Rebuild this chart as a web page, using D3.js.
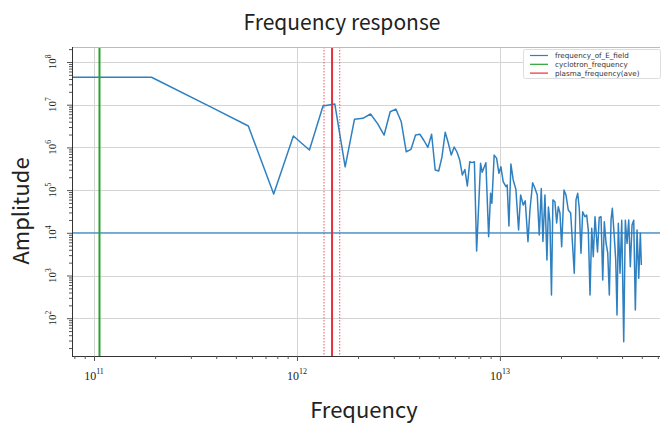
<!DOCTYPE html>
<html><head><meta charset="utf-8">
<script src="https://cdn.jsdelivr.net/npm/d3@7"></script>
<style>body{margin:0;background:#fff}svg{display:block}</style>
</head><body>
<svg id="c" width="663" height="424"></svg>
<script>
// ---- data ----
const freq = [1e10,1.92e11,3.84e11,5.76e11,7.68e11,9.6e11,1.152e12,1.344e12,1.536e12,1.728e12,1.92e12,2.112e12,2.304e12,2.496e12,2.688e12,2.88e12,3.072e12,3.264e12,3.456e12,3.648e12,3.84e12,4.032e12,4.224e12,4.416e12,4.608e12,4.8e12,4.992e12,5.184e12,5.376e12,5.568e12,5.76e12,5.952e12,6.144e12,6.336e12,6.528e12,6.72e12,6.912e12,7.104e12,7.296e12,7.488e12,7.68e12,
8.03e12,8.18e12,8.53e12,8.80e12,9.00e12,9.13e12,9.37e12,9.63e12,9.89e12,1.011e13,1.038e13,1.071e13,1.086e13,1.108e13,1.133e13,1.163e13,1.199e13,1.236e13,1.265e13,1.303e13,1.333e13,1.375e13,1.406e13,1.450e13,1.488e13,1.528e13,1.563e13,1.599e13,1.629e13,1.667e13,1.705e13,1.734e13,1.764e13,1.795e13,1.825e13,1.867e13,1.904e13,1.939e13,1.977e13,2.015e13,2.069e13,2.116e13,2.172e13,2.232e13,2.273e13,2.325e13,2.371e13,2.417e13,2.461e13,2.509e13,2.558e13,2.626e13,2.677e13,2.726e13,2.780e13,2.834e13,2.885e13,2.942e13,3.027e13,3.086e13,3.150e13,3.211e13,3.270e13,3.334e13,3.399e13,3.461e13,3.529e13,3.581e13,3.651e13,3.722e13,3.777e13,3.833e13,3.908e13,3.984e13,4.075e13,4.150e13,4.231e13,4.313e13,4.392e13,4.478e13,4.565e13,4.649e13,4.740e13,4.832e13,4.920e13,4.977e13];
const amp = [4.4e7,4.4e7,8.4e6,3.17e6,8.1e4,1.85e6,8.7e5,9.3e6,1.04e7,3.5e5,4.55e6,4.8e6,6.05e6,3.6e6,1.95e6,6.85e6,7.9e6,4.0e6,7.9e5,9.0e5,1.95e6,2.03e6,1.45e6,1.0e6,2.03e6,2.96e5,2.8e5,6.0e5,2.26e6,1.27e6,6.6e5,1.02e6,7.8e5,5.07e5,2.26e5,3.03e5,1.25e5,4.6e5,4.4e5,4.6e5,3.75e3,
4.25e5,2.61e5,4.38e5,8.1e3,8.4e4,4.9e4,6.6e5,5.6e5,2.47e5,3.53e5,1.57e5,1.2e5,1.32e5,1.44e4,4.08e5,1.73e5,1.04e5,1.16e4,7.7e4,4.48e4,5.6e4,6.2e3,3.42e4,1.49e5,1.10e5,7.7e4,8.9e3,1.09e5,6.25e3,7.7e4,2.3e3,4.0e4,1.79e4,349,5.9e4,5.35e4,1.70e4,4.08e4,2.91e4,4.72e3,1.0e5,7.7e4,3.42e4,2.91e4,6.8e3,1.13e3,5.9e4,8.4e4,3.75e4,3.31e3,3.12e4,2.38e4,2.61e4,1.16e4,349,1.27e4,2.75e3,2.38e4,3.55e3,2.28e4,2.38e4,785,1.82e4,5.77e3,3.37e3,349,2.0e4,3.75e4,9.9e3,2.3e3,119,1.67e4,1.13e3,1.96e4,28.2,1.96e4,5.67e3,2.0e4,1.61e3,1.52e4,1.96e4,156,1.16e4,859,9.7e3,1.76e3];
const cyclotronFreq = 1.064e11;
const plasmaFreq = 1.489e12;
const plasmaBand = [1.359e12, 1.625e12];
const refAmplitude = 1e4;
const xTicks = [1e11, 1e12, 1e13];
const xTickExp = ["11", "12", "13"];
const yTicks = [1e2, 1e3, 1e4, 1e5, 1e6, 1e7, 1e8];
const yTickExp = ["2", "3", "4", "5", "6", "7", "8"];
const legendLabels = ["frequency_of_E_field", "cyclotron_frequency", "plasma_frequency(ave)"];
const title = "Frequency response";
const xLabel = "Frequency";
const yLabel = "Amplitude";

// ---- layout ----
const L = 72, R = 660, T = 47, B = 356;
const svg = d3.select("#c");
const x = d3.scaleLog().domain([7.79e10, 6.15e13]).range([L, R]);
const y = d3.scaleLog().domain([13.03, 2.244e8]).range([B, T]);
const blue = "#2f80c0", green = "#2ca02c", red = "#e8303a", grid = "#d4d4d4";

svg.append("defs").append("clipPath").attr("id", "clip")
  .append("rect").attr("x", L).attr("y", T).attr("width", R - L).attr("height", B - T);

// gridlines
svg.append("g").selectAll("line").data(xTicks).join("line")
  .attr("x1", d => Math.round(x(d)) + 0.5).attr("x2", d => Math.round(x(d)) + 0.5)
  .attr("y1", T).attr("y2", B).attr("stroke", grid).attr("stroke-width", 1);
svg.append("g").selectAll("line").data(yTicks).join("line")
  .attr("y1", d => Math.round(y(d)) + 0.5).attr("y2", d => Math.round(y(d)) + 0.5)
  .attr("x1", L).attr("x2", R).attr("stroke", grid).attr("stroke-width", 1);

const plot = svg.append("g").attr("clip-path", "url(#clip)");
const pts = freq.map((f, i) => [f, amp[i]]);
plot.append("path").datum(pts)
  .attr("d", d3.line().x(d => x(d[0])).y(d => y(d[1])))
  .attr("fill", "none").attr("stroke", blue).attr("stroke-width", 1.5).attr("stroke-linejoin", "round");
plot.append("line").attr("x1", L).attr("x2", R)
  .attr("y1", y(refAmplitude)).attr("y2", y(refAmplitude))
  .attr("stroke", blue).attr("stroke-width", 1.2).attr("opacity", 0.9);
plot.append("line").attr("x1", x(cyclotronFreq)).attr("x2", x(cyclotronFreq))
  .attr("y1", T).attr("y2", B).attr("stroke", green).attr("stroke-width", 2);
plot.selectAll(".band").data(plasmaBand).join("line")
  .attr("x1", d => x(d)).attr("x2", d => x(d)).attr("y1", T).attr("y2", B)
  .attr("stroke", red).attr("stroke-width", 1).attr("stroke-dasharray", "1.5,1.5").attr("opacity", 0.8);
plot.append("line").attr("x1", x(plasmaFreq)).attr("x2", x(plasmaFreq))
  .attr("y1", T).attr("y2", B).attr("stroke", red).attr("stroke-width", 2);

// spines
svg.append("line").attr("x1", L).attr("x2", R).attr("y1", T + 0.5).attr("y2", T + 0.5).attr("stroke", "#bbb");
svg.append("line").attr("x1", L + 0.5).attr("x2", L + 0.5).attr("y1", T).attr("y2", B).attr("stroke", "#333");
svg.append("line").attr("x1", L).attr("x2", R).attr("y1", B + 0.5).attr("y2", B + 0.5).attr("stroke", "#333");

// axes ticks
const xMinor = [], yMinor = [];
for (let e = 10; e <= 13; e++) for (let m = 2; m <= 9; m++) { const v = m * Math.pow(10, e); if (v > 7.79e10 && v < 6.15e13) xMinor.push(v); }
for (let e = 1; e <= 8; e++) for (let m = 2; m <= 9; m++) { const v = m * Math.pow(10, e); if (v > 13.03 && v < 2.244e8) yMinor.push(v); }
const xAxis = svg.append("g").attr("transform", `translate(0,${B})`)
  .call(d3.axisBottom(x).tickValues(xTicks).tickSize(5).tickFormat(""));
const xAxisMinor = svg.append("g").attr("transform", `translate(0,${B})`)
  .call(d3.axisBottom(x).tickValues(xMinor).tickSize(3).tickFormat(""));
const yAxis = svg.append("g").attr("transform", `translate(${L},0)`)
  .call(d3.axisLeft(y).tickValues(yTicks).tickSize(5).tickFormat(""));
const yAxisMinor = svg.append("g").attr("transform", `translate(${L},0)`)
  .call(d3.axisLeft(y).tickValues(yMinor).tickSize(3).tickFormat(""));
[xAxis, xAxisMinor, yAxis, yAxisMinor].forEach(g => {
  g.select(".domain").remove();
  g.selectAll(".tick line").attr("stroke", "#555");
});

// tick labels
const xl = svg.append("g").attr("font-family", "'Liberation Serif', serif").attr("fill", "#222");
xTicks.forEach((t, i) => {
  const tx = xl.append("text").attr("x", x(t)).attr("y", B + 24).attr("text-anchor", "middle").attr("font-size", 12);
  tx.append("tspan").text("10");
  tx.append("tspan").attr("dy", -6).attr("font-size", 8).text(xTickExp[i]);
});
yTicks.forEach((t, i) => {
  const tx = xl.append("text").attr("transform", `translate(56,${y(t)}) rotate(-90)`)
    .attr("text-anchor", "middle").attr("font-size", 11);
  tx.append("tspan").text("10");
  tx.append("tspan").attr("dy", -5).attr("font-size", 7.5).text(yTickExp[i]);
});

// titles
const sans = "'Noto Sans CJK JP', 'Noto Sans', sans-serif";
svg.append("text").attr("x", 342).attr("y", 30).attr("text-anchor", "middle")
  .attr("font-family", sans).attr("font-size", 21).attr("fill", "#222").text(title);
svg.append("text").attr("x", 364).attr("y", 418).attr("text-anchor", "middle")
  .attr("font-family", sans).attr("font-size", 22).attr("fill", "#222").text(xLabel);
svg.append("text").attr("transform", "translate(29,211) rotate(-90)").attr("text-anchor", "middle")
  .attr("font-family", sans).attr("font-size", 22).attr("fill", "#222").text(yLabel);

// legend
const lg = svg.append("g");
lg.append("rect").attr("x", 523.5).attr("y", 49.5).attr("width", 137).attr("height", 29)
  .attr("fill", "#fff").attr("stroke", "#ddd").attr("rx", 2);
const lcol = [blue, green, red];
legendLabels.forEach((s, i) => {
  const yy = 55.5 + i * 8.8;
  lg.append("line").attr("x1", 530).attr("x2", 548).attr("y1", yy).attr("y2", yy)
    .attr("stroke", lcol[i]).attr("stroke-width", 1.2);
  lg.append("text").attr("x", 555).attr("y", yy + 2.8).attr("font-family", "'DejaVu Sans', sans-serif")
    .attr("font-size", 7.2).attr("fill", "#333").text(s);
});
</script>
</body></html>
